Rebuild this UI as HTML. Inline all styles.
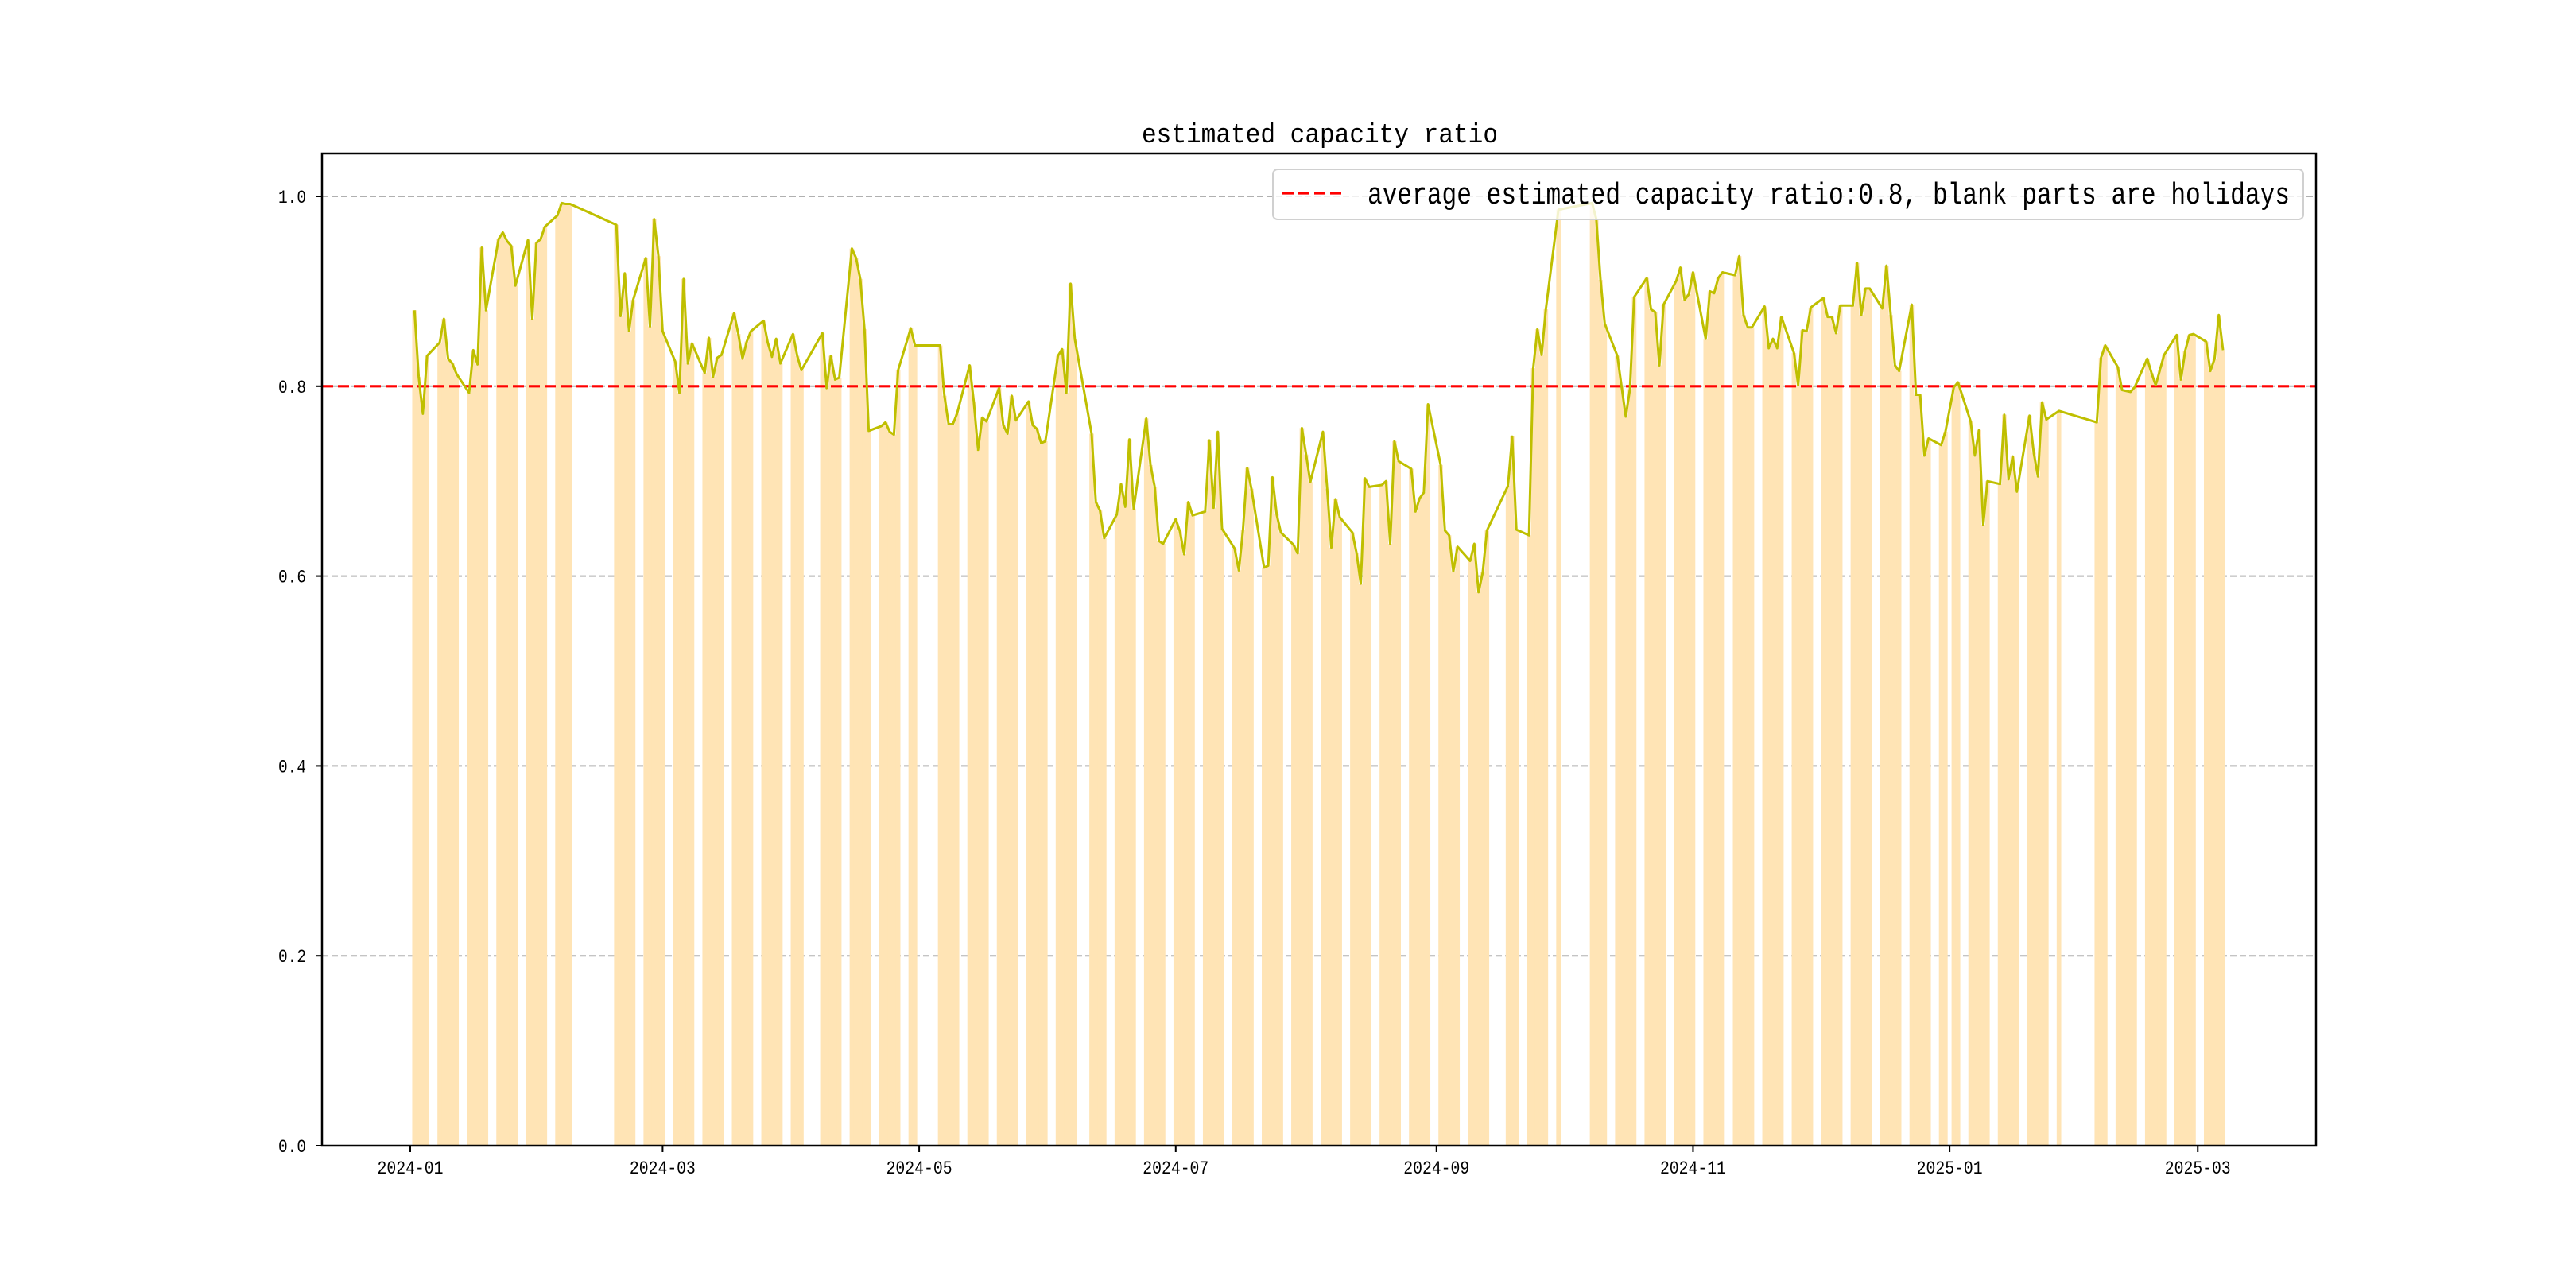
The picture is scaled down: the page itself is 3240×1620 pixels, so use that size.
<!DOCTYPE html>
<html><head><meta charset="utf-8"><style>
html,body{margin:0;padding:0;background:#fff;}
svg{display:block;}
text{font-family:"Liberation Mono","Noto Sans CJK SC",monospace;fill:#000;}
</style></head><body>
<svg id="chart" width="3240" height="1620" viewBox="0 0 3240 1620" xmlns="http://www.w3.org/2000/svg">
<rect x="0" y="0" width="3240" height="1620" fill="#fff"/>
<text x="1436" y="179" font-size="34" textLength="448" lengthAdjust="spacingAndGlyphs">estimated capacity ratio</text>
<g id="grid"></g>
<g id="bars"></g>
<g id="avg"></g>
<g id="line"></g>
<g id="axes"></g>
<g id="legend">
<rect x="1601" y="213" width="1296" height="63" rx="6" fill="#fff" fill-opacity="0.8" stroke="#d0d0d0" stroke-width="2"/>
<line x1="1613" y1="243" x2="1690" y2="243" stroke="#ff0000" stroke-width="3.2" stroke-dasharray="14,6"/>
<text x="1720" y="256" font-size="38" textLength="1160" lengthAdjust="spacingAndGlyphs">average estimated capacity ratio:0.8, blank parts are holidays</text>
</g>
</svg>
<script>
const dates = [
"2024-01-02","2024-01-03","2024-01-04","2024-01-05","2024-01-08","2024-01-09","2024-01-10","2024-01-11","2024-01-12","2024-01-15","2024-01-16","2024-01-17","2024-01-18","2024-01-19","2024-01-22","2024-01-23","2024-01-24","2024-01-25","2024-01-26","2024-01-29","2024-01-30","2024-01-31",
"2024-02-01","2024-02-02","2024-02-05","2024-02-06","2024-02-07","2024-02-08","2024-02-19","2024-02-20","2024-02-21","2024-02-22","2024-02-23","2024-02-26","2024-02-27","2024-02-28","2024-02-29",
"2024-03-01","2024-03-04","2024-03-05","2024-03-06","2024-03-07","2024-03-08","2024-03-11","2024-03-12","2024-03-13","2024-03-14","2024-03-15","2024-03-18","2024-03-19","2024-03-20","2024-03-21","2024-03-22","2024-03-25","2024-03-26","2024-03-27","2024-03-28","2024-03-29",
"2024-04-01","2024-04-02","2024-04-03","2024-04-08","2024-04-09","2024-04-10","2024-04-11","2024-04-12","2024-04-15","2024-04-16","2024-04-17","2024-04-18","2024-04-19","2024-04-22","2024-04-23","2024-04-24","2024-04-25","2024-04-26","2024-04-29","2024-04-30",
"2024-05-06","2024-05-07","2024-05-08","2024-05-09","2024-05-10","2024-05-13","2024-05-14","2024-05-15","2024-05-16","2024-05-17","2024-05-20","2024-05-21","2024-05-22","2024-05-23","2024-05-24","2024-05-27","2024-05-28","2024-05-29","2024-05-30","2024-05-31",
"2024-06-03","2024-06-04","2024-06-05","2024-06-06","2024-06-07","2024-06-11","2024-06-12","2024-06-13","2024-06-14","2024-06-17","2024-06-18","2024-06-19","2024-06-20","2024-06-21","2024-06-24","2024-06-25","2024-06-26","2024-06-27","2024-06-28",
"2024-07-01","2024-07-02","2024-07-03","2024-07-04","2024-07-05","2024-07-08","2024-07-09","2024-07-10","2024-07-11","2024-07-12","2024-07-15","2024-07-16","2024-07-17","2024-07-18","2024-07-19","2024-07-22","2024-07-23","2024-07-24","2024-07-25","2024-07-26","2024-07-29","2024-07-30","2024-07-31",
"2024-08-01","2024-08-02","2024-08-05","2024-08-06","2024-08-07","2024-08-08","2024-08-09","2024-08-12","2024-08-13","2024-08-14","2024-08-15","2024-08-16","2024-08-19","2024-08-20","2024-08-21","2024-08-22","2024-08-23","2024-08-26","2024-08-27","2024-08-28","2024-08-29","2024-08-30",
"2024-09-02","2024-09-03","2024-09-04","2024-09-05","2024-09-06","2024-09-09","2024-09-10","2024-09-11","2024-09-12","2024-09-13","2024-09-18","2024-09-19","2024-09-20","2024-09-23","2024-09-24","2024-09-25","2024-09-26","2024-09-27","2024-09-30",
"2024-10-08","2024-10-09","2024-10-10","2024-10-11","2024-10-14","2024-10-15","2024-10-16","2024-10-17","2024-10-18","2024-10-21","2024-10-22","2024-10-23","2024-10-24","2024-10-25","2024-10-28","2024-10-29","2024-10-30","2024-10-31",
"2024-11-01","2024-11-04","2024-11-05","2024-11-06","2024-11-07","2024-11-08","2024-11-11","2024-11-12","2024-11-13","2024-11-14","2024-11-15","2024-11-18","2024-11-19","2024-11-20","2024-11-21","2024-11-22","2024-11-25","2024-11-26","2024-11-27","2024-11-28","2024-11-29",
"2024-12-02","2024-12-03","2024-12-04","2024-12-05","2024-12-06","2024-12-09","2024-12-10","2024-12-11","2024-12-12","2024-12-13","2024-12-16","2024-12-17","2024-12-18","2024-12-19","2024-12-20","2024-12-23","2024-12-24","2024-12-25","2024-12-26","2024-12-27","2024-12-30","2024-12-31",
"2025-01-02","2025-01-03","2025-01-06","2025-01-07","2025-01-08","2025-01-09","2025-01-10","2025-01-13","2025-01-14","2025-01-15","2025-01-16","2025-01-17","2025-01-20","2025-01-21","2025-01-22","2025-01-23","2025-01-24","2025-01-27",
"2025-02-05","2025-02-06","2025-02-07","2025-02-10","2025-02-11","2025-02-12","2025-02-13","2025-02-14","2025-02-17","2025-02-18","2025-02-19","2025-02-20","2025-02-21","2025-02-24","2025-02-25","2025-02-26","2025-02-27","2025-02-28",
"2025-03-03","2025-03-04","2025-03-05","2025-03-06","2025-03-07"];
const ratios = [
.880,.810,.771,.832,.846,.871,.829,.824,.813,.793,.838,.823,.946,.880,.955,.962,.953,.948,.906,.954,.871,.951,
.955,.968,.980,.993,.992,.992,.970,.874,.919,.858,.891,.935,.863,.976,.937,
.858,.826,.793,.913,.824,.845,.814,.851,.810,.830,.833,.877,.855,.829,.847,.858,.869,.846,.831,.850,.824,
.855,.832,.817,.856,.798,.832,.807,.809,.945,.935,.913,.860,.753,.758,.762,.752,.749,.817,.861,.843,
.843,.790,.760,.760,.771,.822,.783,.733,.767,.763,.798,.759,.750,.790,.764,.784,.759,.755,.740,.742,
.832,.839,.793,.908,.850,.750,.678,.669,.640,.665,.697,.673,.744,.671,.766,.717,.694,.637,.634,
.660,.647,.623,.678,.664,.668,.743,.672,.752,.650,.629,.606,.649,.714,.692,.609,.611,.704,.665,.646,.633,.624,.756,
.728,.699,.752,.692,.630,.681,.662,.646,.624,.592,.703,.694,.696,.700,.634,.742,.721,.713,.668,.682,.688,.781,
.717,.648,.643,.605,.631,.616,.634,.583,.604,.648,.695,.747,.649,.643,.819,.860,.833,.881,.986,
.993,.976,.912,.866,.832,.800,.768,.797,.894,.914,.881,.878,.822,.886,.911,.925,.891,.897,
.920,.850,.900,.898,.914,.920,.917,.937,.875,.862,.862,.884,.840,.850,.840,.873,.835,.801,.859,.858,.883,
.893,.873,.873,.856,.885,.885,.930,.875,.903,.903,.882,.927,.875,.822,.816,.886,.791,.791,.727,.745,.738,.752,
.799,.804,.763,.727,.754,.654,.700,.697,.770,.702,.726,.689,.769,.730,.705,.783,.765,.774,
.762,.830,.843,.820,.796,.795,.794,.799,.829,.814,.801,.817,.833,.854,.807,.837,.854,.855,
.847,.816,.829,.875,.838];
const averageRatio = [0.8];
const yTicks = [0.0, 0.2, 0.4, 0.6, 0.8, 1.0];
const yTickLabels = ["0.0","0.2","0.4","0.6","0.8","1.0"];
const xTicks = ["2024-01-01","2024-03-01","2024-05-01","2024-07-01","2024-09-01","2024-11-01","2025-01-01","2025-03-01"];
const xTickLabels = ["2024-01","2024-03","2024-05","2024-07","2024-09","2024-11","2025-01","2025-03"];

const NS="http://www.w3.org/2000/svg";
const PL=405, PR=2913, PT=193, PB=1441;
const X0=516, PXDAY=5.29, Y0=1441, PXUNIT=1194;
const BASE=Date.UTC(2024,0,1);
function dayOf(s){const p=s.split('-').map(Number);return (Date.UTC(p[0],p[1]-1,p[2])-BASE)/86400000;}
function xScale(s){return X0+dayOf(s)*PXDAY;}
function yScale(v){return Y0-v*PXUNIT;}
function mk(tag,attrs,parent){const e=document.createElementNS(NS,tag);for(const k in attrs)e.setAttribute(k,attrs[k]);parent.appendChild(e);return e;}

const grid=document.getElementById('grid');
yTicks.forEach((t,i)=>{
  const g=mk('line',{x1:PL,x2:PR,y1:yScale(t),y2:yScale(t),stroke:'#b0b0b0','stroke-width':2,'stroke-dasharray':'8,4'},grid);
  
  
});

const bars=document.getElementById('bars');
dates.forEach((d,i)=>{
  const x=xScale(d);
  const r=mk('rect',{x:x-PXDAY/2-0.2,width:PXDAY+0.4,y:yScale(ratios[i]),height:yScale(0)-yScale(ratios[i]),fill:'#ffe4b5'},bars);
  
  
});

const avg=document.getElementById('avg');
const al=mk('line',{x1:PL,x2:PR,y1:yScale(averageRatio[0]),y2:yScale(averageRatio[0]),stroke:'#ff0000','stroke-width':3.2,'stroke-dasharray':'14,6'},avg);



const lineG=document.getElementById('line');
const pts=dates.map((d,i)=>xScale(d).toFixed(2)+','+yScale(ratios[i]).toFixed(2)).join(' ');
const pl=mk('polyline',{points:pts,fill:'none',stroke:'#bfbf00','stroke-width':3,'stroke-linejoin':'round'},lineG);



const axes=document.getElementById('axes');
const frame=mk('rect',{x:PL,y:PT,width:PR-PL,height:PB-PT,fill:'none',stroke:'#000','stroke-width':2.5},axes);


yTicks.forEach((t,i)=>{
  const y=yScale(t);
  const tk=mk('line',{x1:PL-8,x2:PL,y1:y,y2:y,stroke:'#000','stroke-width':2},axes);
  
  
  const tx=mk('text',{x:385,y:y+8,'font-size':23,'text-anchor':'end',textLength:35,lengthAdjust:'spacingAndGlyphs'},axes);
  tx.textContent=yTickLabels[i];
  
  
});
xTicks.forEach((t,i)=>{
  const x=xScale(t);
  const tk=mk('line',{x1:x,x2:x,y1:PB,y2:PB+8,stroke:'#000','stroke-width':2},axes);
  
  
  const tx=mk('text',{x:x-41.5,y:1476,'font-size':23,textLength:83,lengthAdjust:'spacingAndGlyphs'},axes);
  tx.textContent=xTickLabels[i];
  
  
});
</script>
</body></html>
